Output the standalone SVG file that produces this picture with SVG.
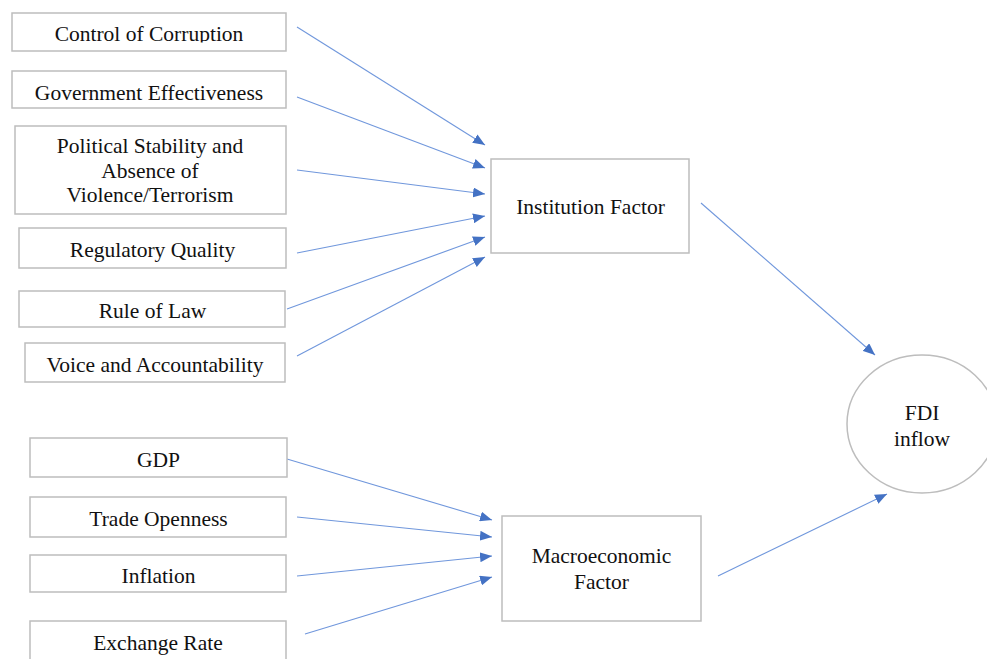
<svg xmlns="http://www.w3.org/2000/svg" width="987" height="659" viewBox="0 0 987 659">
<style>
.box{fill:#ffffff;stroke:#bdbdbd;stroke-width:1.5}
.t{font-family:"Liberation Serif","Times New Roman",serif;font-size:21.5px;fill:#111111;text-anchor:middle}
.c{fill:none;stroke:#7097dc;stroke-width:1.1;marker-end:url(#ah)}
</style>
<defs>
<marker id="ah" markerUnits="userSpaceOnUse" markerWidth="13" markerHeight="10" refX="12" refY="5" orient="auto">
<path d="M0,0 L12,5 L0,10 z" fill="#4472c4"/>
</marker>
<clipPath id="clip1"><rect x="12" y="13" width="274" height="29.5"/></clipPath>
</defs>
<rect width="987" height="659" fill="#ffffff"/>
<g id="connectors">
<line class="c" x1="297" y1="27" x2="485" y2="145"/>
<line class="c" x1="297" y1="97" x2="485" y2="168"/>
<line class="c" x1="297" y1="170" x2="485" y2="194"/>
<line class="c" x1="297" y1="253" x2="485" y2="216"/>
<line class="c" x1="287" y1="309" x2="485" y2="237"/>
<line class="c" x1="297" y1="356" x2="485" y2="257"/>
<line class="c" x1="287" y1="459" x2="492" y2="520"/>
<line class="c" x1="297" y1="517" x2="492" y2="537"/>
<line class="c" x1="297" y1="576" x2="492" y2="556"/>
<line class="c" x1="305" y1="634" x2="492" y2="577"/>
<line class="c" x1="701" y1="203" x2="875" y2="355"/>
<line class="c" x1="718" y1="576" x2="887" y2="494"/>
</g>
<g id="n-corruption"><rect class="box" x="12" y="13" width="274" height="38"/><text class="t" x="149" y="41" clip-path="url(#clip1)">Control of Corruption</text></g>
<g id="n-government"><rect class="box" x="12" y="71" width="274" height="37"/><text class="t" x="149" y="100">Government Effectiveness</text></g>
<g id="n-political"><rect class="box" x="15" y="126" width="271" height="88"/><text class="t" x="150" y="153">Political Stability and</text><text class="t" x="150" y="178">Absence of</text><text class="t" x="150" y="202">Violence/Terrorism</text></g>
<g id="n-regulatory"><rect class="box" x="19" y="228" width="267" height="40"/><text class="t" x="152.5" y="257">Regulatory Quality</text></g>
<g id="n-rule"><rect class="box" x="19" y="291" width="266" height="36"/><text class="t" x="152.5" y="318">Rule of Law</text></g>
<g id="n-voice"><rect class="box" x="25" y="343" width="260" height="39"/><text class="t" x="155" y="372">Voice and Accountability</text></g>
<g id="n-gdp"><rect class="box" x="30" y="438" width="257" height="39"/><text class="t" x="158.5" y="467">GDP</text></g>
<g id="n-trade"><rect class="box" x="30" y="497" width="256" height="40"/><text class="t" x="158.5" y="526">Trade Openness</text></g>
<g id="n-inflation"><rect class="box" x="30" y="555" width="256" height="37"/><text class="t" x="158.5" y="583">Inflation</text></g>
<g id="n-exchange"><rect class="box" x="30" y="621" width="256" height="50"/><text class="t" x="158" y="650">Exchange Rate</text></g>
<g id="n-institution"><rect class="box" x="491" y="159" width="198" height="94"/><text class="t" x="590.5" y="214">Institution Factor</text></g>
<g id="n-macro"><rect class="box" x="502" y="516" width="199" height="105"/><text class="t" x="601.5" y="563">Macroeconomic</text><text class="t" x="601.5" y="589">Factor</text></g>
<g id="n-fdi"><ellipse class="box" cx="922" cy="424" rx="75" ry="69"/><text class="t" x="922" y="420">FDI</text><text class="t" x="922" y="446">inflow</text></g>
</svg>
